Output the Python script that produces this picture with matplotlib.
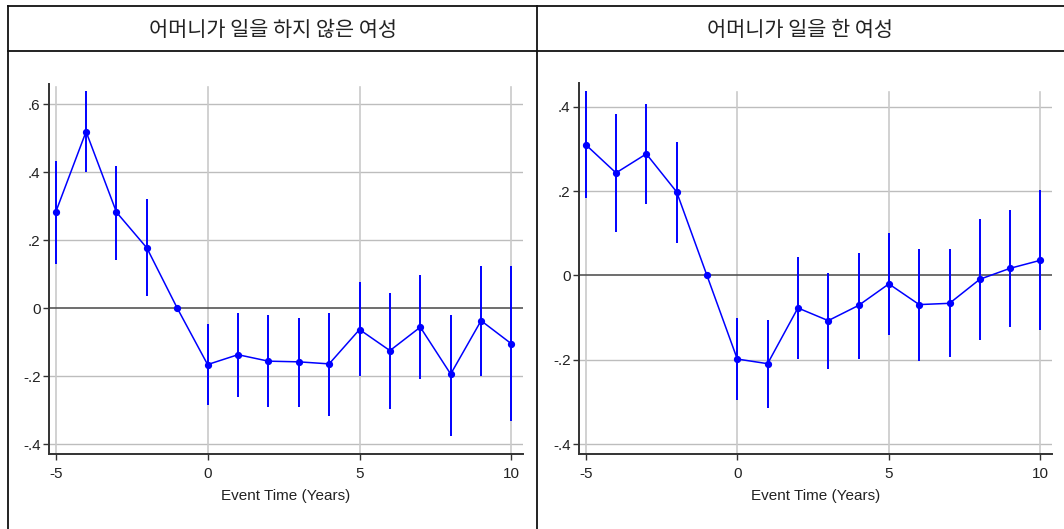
import numpy as np
import matplotlib
matplotlib.use("Agg")
import matplotlib.pyplot as plt
from matplotlib.lines import Line2D

plt.rcParams["font.family"] = ["Liberation Sans Narrow", "Liberation Sans", "Noto Sans CJK KR", "DejaVu Sans"]

# event-study coefficients with 95% CIs, event year -1 is the omitted base
event_time = [-5, -4, -3, -2, -1, 0, 1, 2, 3, 4, 5, 6, 7, 8, 9, 10]

titles = ["어머니가 일을 하지 않은 여성", "어머니가 일을 한 여성"]

coef_nowork = [0.282, 0.519, 0.282, 0.177, 0.0, -0.166, -0.137, -0.156, -0.158, -0.164,
               -0.063, -0.125, -0.056, -0.194, -0.037, -0.105]
lo_nowork = [0.130, 0.401, 0.142, 0.035, np.nan, -0.284, -0.262, -0.292, -0.290, -0.316,
             -0.199, -0.297, -0.209, -0.375, -0.200, -0.333]
hi_nowork = [0.432, 0.637, 0.419, 0.320, np.nan, -0.047, -0.014, -0.021, -0.030, -0.013,
             0.077, 0.044, 0.097, -0.019, 0.125, 0.124]

coef_work = [0.310, 0.243, 0.288, 0.198, 0.0, -0.198, -0.209, -0.077, -0.107, -0.071,
             -0.020, -0.069, -0.066, -0.009, 0.017, 0.036]
lo_work = [0.184, 0.104, 0.169, 0.077, np.nan, -0.294, -0.315, -0.198, -0.222, -0.198,
           -0.142, -0.202, -0.194, -0.153, -0.122, -0.130]
hi_work = [0.438, 0.382, 0.407, 0.317, np.nan, -0.101, -0.105, 0.044, 0.006, 0.054,
           0.101, 0.063, 0.063, 0.134, 0.155, 0.203]

yticks_nowork = [-0.4, -0.2, 0.0, 0.2, 0.4, 0.6]
yticks_work = [-0.4, -0.2, 0.0, 0.2, 0.4]
xticks = [-5, 0, 5, 10]


def ylab(v):
    if abs(v) < 1e-9:
        return "0"
    s = f"{v:.1f}"
    return s.replace("0.", ".")


W, H = 1064, 529
fig = plt.figure(figsize=(W / 100, H / 100), dpi=100)


def px_axes(x0, y0, x1, y1):
    return fig.add_axes([x0 / W, 1 - y1 / H, (x1 - x0) / W, (y1 - y0) / H])


def panel(ax, coef, lo, hi, yticks, ylim, vtop):
    x = np.array(event_time)
    coef, lo, hi = map(np.array, (coef, lo, hi))
    for v in yticks:
        if v != 0:
            ax.axhline(v, color="#bdbdbd", lw=1.0, zorder=1)
    for v in xticks:
        ax.axvline(v, ymax=vtop, color="#cacaca", lw=1.2, zorder=1)
    ax.axhline(0, color="#555555", lw=1.2, zorder=2)
    ax.vlines(x, lo, hi, color="#0000ff", lw=1.4, zorder=3)
    ax.plot(x, coef, color="#0000ff", lw=1.1, marker="o", ms=4.2, zorder=4)

    ax.set_xlim(-5.22, 10.38)
    ax.set_ylim(*ylim)
    ax.set_xticks(xticks)
    ax.set_xticklabels([str(t) for t in xticks])
    ax.set_yticks(yticks)
    ax.set_yticklabels([ylab(v) for v in yticks])
    ax.tick_params(axis="both", direction="out", length=4.5, width=1.0,
                   color="#333333", labelsize=11, labelcolor="#222222")
    ax.tick_params(axis="y", pad=1.5)
    ax.tick_params(axis="x", pad=4.5)
    for s in ("top", "right"):
        ax.spines[s].set_visible(False)
    for s in ("left", "bottom"):
        ax.spines[s].set_color("#333333")
        ax.spines[s].set_linewidth(1.4)
    ax.set_xlabel("Event Time (Years)", fontsize=11, color="#222222", labelpad=6)


ax1 = px_axes(49, 84, 523, 454)
panel(ax1, coef_nowork, lo_nowork, hi_nowork, yticks_nowork, (-0.429, 0.659), 0.992)

ax2 = px_axes(579, 83, 1052, 454)
panel(ax2, coef_work, lo_work, hi_work, yticks_work, (-0.423, 0.456), 0.976)

# table-like frame around the two panels with a title row
frame = dict(color="#111111", lw=1.3, transform=fig.transFigure)
fig.add_artist(Line2D([8 / W, 1], [1 - 6 / H, 1 - 6 / H], **frame))
fig.add_artist(Line2D([8 / W, 1], [1 - 50.5 / H, 1 - 50.5 / H], **frame))
fig.add_artist(Line2D([8 / W, 8 / W], [0, 1 - 6 / H], **frame))
fig.add_artist(Line2D([537 / W, 537 / W], [0, 1 - 6 / H], **frame))

for cx, t in zip([273, 800], titles):
    fig.text(cx / W, 1 - 30 / H, t, ha="center", va="center", fontsize=15,
             family=["Noto Sans CJK KR", "DejaVu Sans"], color="#222222")

fig.savefig("out.png", dpi=100)
